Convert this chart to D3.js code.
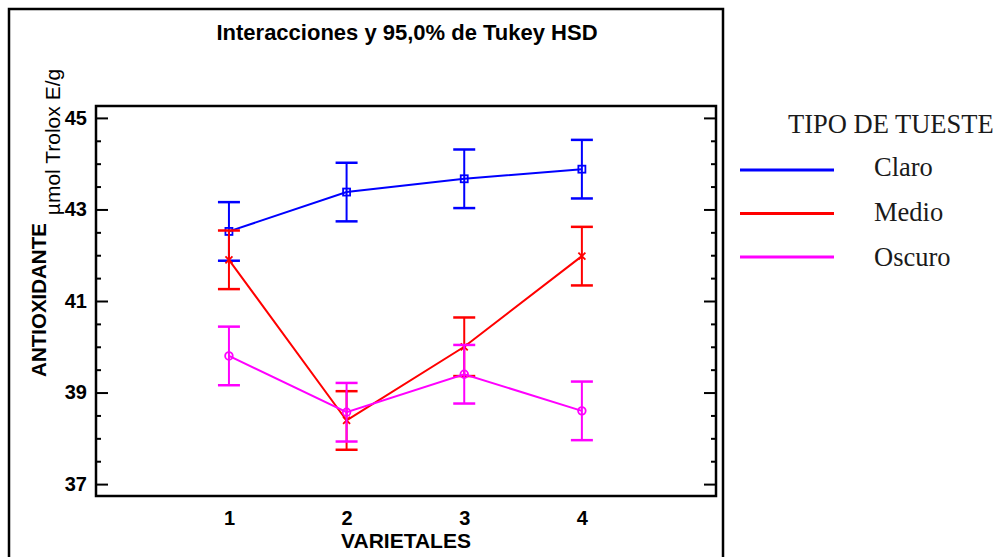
<!DOCTYPE html>
<meta charset="utf-8">
<style>
body { margin: 0; background: #fff; }
svg { display: block; }
.tick text { font-family: "Liberation Sans", Arial, sans-serif; font-weight: bold; font-size: 20px; fill: #000; }
.tick line { stroke: #000; stroke-width: 2; }
.legend text { font-family: "Liberation Serif", "Times New Roman", serif; font-size: 26.5px; fill: #1a1a1a; }
</style>
<body>
<svg width="1001" height="557"></svg>
<script src="https://d3js.org/d3.v7.min.js"></script>
<script>

var categories = [1, 2, 3, 4];
var seriesNames = ["Claro", "Medio", "Oscuro"];
var claro = [42.52, 43.38, 43.67, 43.88];
var medio = [41.90, 38.39, 40.00, 41.98];
var oscuro = [39.80, 38.57, 39.40, 38.60];
var halfInterval = 0.64;   // Tukey HSD 95% half-width
var majorTicks = [37, 39, 41, 43, 45];
var minorTicks = [37.5, 38, 38.5, 39.5, 40, 40.5, 41.5, 42, 42.5, 43.5, 44, 44.5];
var colors = ["#0000ff", "#ff0000", "#ff00ff"];
var markers = ["square", "cross", "circle"];

var svg = d3.select("svg");

var plotLeft = 96, plotRight = 716, plotTop = 106, plotBottom = 496;

var x = d3.scaleLinear().domain([-0.13, 5.14]).range([plotLeft, plotRight]);
var y = d3.scaleLinear().domain([36.74, 45.26]).range([plotBottom, plotTop]);

// outer frame
svg.append("rect")
    .attr("x", 9).attr("y", 9)
    .attr("width", 714).attr("height", 560)
    .attr("fill", "none").attr("stroke", "#000").attr("stroke-width", 2.5);

// title
svg.append("text")
    .attr("x", 407).attr("y", 40)
    .attr("text-anchor", "middle")
    .attr("font-family", "Liberation Sans, Arial, sans-serif")
    .attr("font-weight", "bold").attr("font-size", 22)
    .text("Interacciones y 95,0% de Tukey HSD");

// y axis, left
svg.append("g")
    .attr("transform", "translate(" + plotLeft + ",0)")
    .call(d3.axisLeft(y).tickValues(majorTicks).tickSize(-12).tickPadding(9).tickFormat(d3.format("d")))
    .call(function(g) { g.select(".domain").remove(); });

svg.append("g")
    .attr("transform", "translate(" + plotLeft + ",0)")
    .call(d3.axisLeft(y).tickValues(minorTicks).tickSize(-5).tickFormat(""))
    .call(function(g) { g.select(".domain").remove(); });

// y axis, right
svg.append("g")
    .attr("transform", "translate(" + plotRight + ",0)")
    .call(d3.axisRight(y).tickValues(majorTicks).tickSize(-12).tickFormat(""))
    .call(function(g) { g.select(".domain").remove(); });

svg.append("g")
    .attr("transform", "translate(" + plotRight + ",0)")
    .call(d3.axisRight(y).tickValues(minorTicks).tickSize(-5).tickFormat(""))
    .call(function(g) { g.select(".domain").remove(); });

// x axis
svg.append("g")
    .attr("transform", "translate(0," + plotBottom + ")")
    .call(d3.axisBottom(x).tickValues(categories).tickSize(0).tickPadding(15).tickFormat(d3.format("d")))
    .call(function(g) { g.select(".domain").remove(); });

// plot frame
svg.append("rect")
    .attr("x", plotLeft).attr("y", plotTop)
    .attr("width", plotRight - plotLeft).attr("height", plotBottom - plotTop)
    .attr("fill", "none").attr("stroke", "#000").attr("stroke-width", 2.5);

// axis labels
svg.append("text")
    .attr("x", 406).attr("y", 548)
    .attr("text-anchor", "middle")
    .attr("font-family", "Liberation Sans, Arial, sans-serif")
    .attr("font-weight", "bold").attr("font-size", 21)
    .text("VARIETALES");

svg.append("text")
    .attr("transform", "translate(46,300) rotate(-90)")
    .attr("text-anchor", "middle")
    .attr("font-family", "Liberation Sans, Arial, sans-serif")
    .attr("font-weight", "bold").attr("font-size", 20.5)
    .text("ANTIOXIDANTE");

svg.append("text")
    .attr("transform", "translate(60,142) rotate(-90)")
    .attr("text-anchor", "middle")
    .attr("font-family", "Liberation Sans, Arial, sans-serif")
    .attr("font-size", 21)
    .text("µmol Trolox E/g");

// series
var series = [claro, medio, oscuro].map(function(vals, i) {
    return {
        name: seriesNames[i], color: colors[i], marker: markers[i],
        points: vals.map(function(v, j) { return { cat: categories[j], mean: v }; })
    };
});

var line = d3.line()
    .x(function(d) { return x(d.cat); })
    .y(function(d) { return y(d.mean); });

var sg = svg.selectAll(".series")
    .data(series)
    .enter().append("g")
    .attr("class", "series")
    .attr("stroke", function(d) { return d.color; })
    .attr("fill", "none")
    .attr("stroke-width", 2);

// error bars
sg.each(function(s) {
    var g = d3.select(this);
    s.points.forEach(function(p) {
        var cx = x(p.cat), lo = y(p.mean - halfInterval), hi = y(p.mean + halfInterval);
        g.append("line").attr("x1", cx).attr("x2", cx).attr("y1", lo).attr("y2", hi);
        g.append("line").attr("x1", cx - 11).attr("x2", cx + 11).attr("y1", lo).attr("y2", lo).attr("stroke-width", 2.5);
        g.append("line").attr("x1", cx - 11).attr("x2", cx + 11).attr("y1", hi).attr("y2", hi).attr("stroke-width", 2.5);
    });
});

sg.append("path")
    .attr("d", function(d) { return line(d.points); });

// markers
sg.each(function(s) {
    var g = d3.select(this);
    s.points.forEach(function(p) {
        var cx = x(p.cat), cy = y(p.mean);
        if (s.marker == "square") {
            g.append("rect").attr("x", cx - 3.5).attr("y", cy - 3.5).attr("width", 7).attr("height", 7).attr("stroke-width", 1.8);
        } else if (s.marker == "circle") {
            g.append("circle").attr("cx", cx).attr("cy", cy).attr("r", 3.8).attr("stroke-width", 1.8);
        } else {
            g.append("path")
                .attr("d", "M" + (cx - 3.5) + "," + (cy - 3.5) + "L" + (cx + 3.5) + "," + (cy + 3.5) +
                           "M" + (cx - 3.5) + "," + (cy + 3.5) + "L" + (cx + 3.5) + "," + (cy - 3.5))
                .attr("stroke-width", 1.8);
        }
    });
});

// legend
var legend = svg.append("g").attr("class", "legend");

legend.append("text")
    .attr("x", 788).attr("y", 133)
    .text("TIPO DE TUESTE");

var legendY = d3.scalePoint().domain(seriesNames).range([170, 257]);
var labelY = d3.scalePoint().domain(seriesNames).range([176, 266]);

var item = legend.selectAll(".item")
    .data(series)
    .enter().append("g")
    .attr("class", "item");

item.append("line")
    .attr("x1", 740).attr("x2", 834)
    .attr("y1", function(d) { return legendY(d.name); })
    .attr("y2", function(d) { return legendY(d.name); })
    .attr("stroke", function(d) { return d.color; })
    .attr("stroke-width", 3);

item.append("text")
    .attr("x", 874)
    .attr("y", function(d) { return labelY(d.name); })
    .text(function(d) { return d.name; });

</script>
</body>
